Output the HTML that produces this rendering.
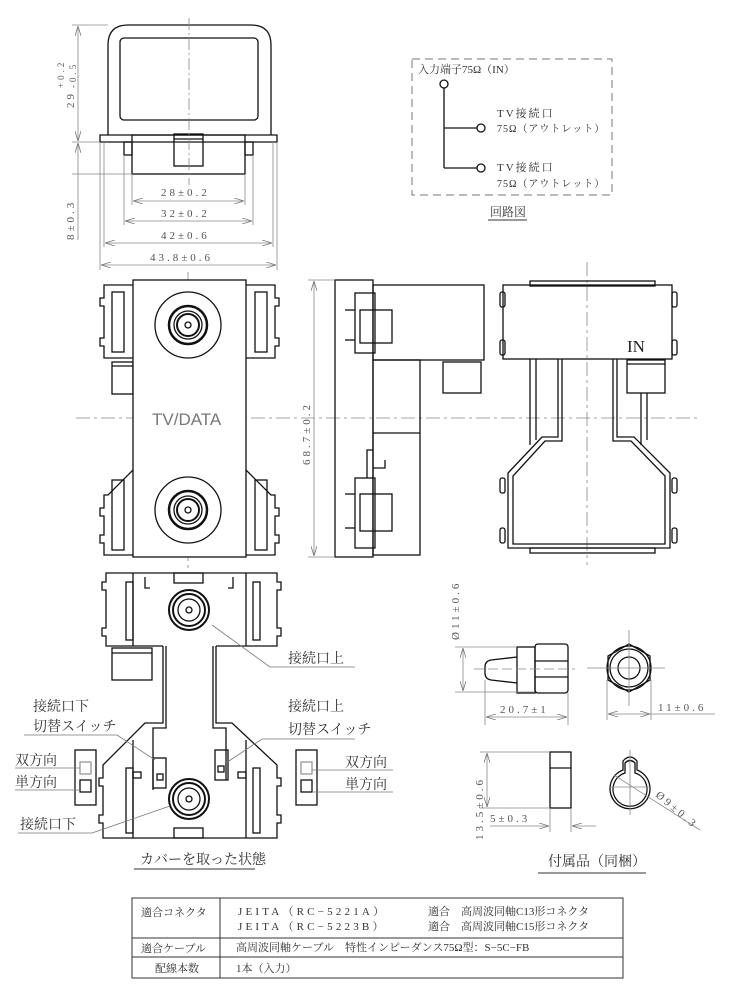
<!DOCTYPE html>
<html><head><meta charset="utf-8"><style>
html,body{margin:0;padding:0;background:#fff;}
svg{display:block;}
text{font-family:"Liberation Serif","Noto Serif CJK SC","Noto Sans CJK JP",serif;fill:#333;}
.d{font-size:11px;letter-spacing:3px;fill:#555;}
.l{font-size:14px;fill:#333;}
</style></head><body>
<svg width="755" height="1000" viewBox="0 0 755 1000" xmlns="http://www.w3.org/2000/svg">
<defs>
<marker id="a" markerWidth="10" markerHeight="6" refX="10" refY="3" orient="auto-start-reverse" markerUnits="userSpaceOnUse"><path d="M0,0 L10,3 L0,6" fill="none" stroke="#777" stroke-width="0.8"/></marker>
</defs>
<g fill="none" stroke="#111" stroke-width="1.3">
<!-- TOP VIEW -->
<path d="M108,135 L108,45 Q108,25 128,25 L251,25 Q271,25 271,45 L271,135"/>
<rect x="120" y="38" width="138" height="82" rx="4"/>
<path d="M100,142 L100,135 L277,135 L277,142 Z"/>
<rect x="132" y="135" width="113" height="39"/>
<rect x="124" y="142" width="8" height="13"/><rect x="245" y="142" width="8" height="13"/>
<rect x="174" y="134" width="29" height="32"/><line x1="174" y1="139" x2="203" y2="139"/>
</g>
<g stroke="#888" stroke-width="0.8" fill="none">
<line x1="189" y1="18" x2="189" y2="185" stroke-dasharray="12,3,2,3"/>
<line x1="72" y1="25" x2="108" y2="25"/><line x1="72" y1="142" x2="100" y2="142"/><line x1="72" y1="174" x2="132" y2="174"/>
<line x1="78" y1="26" x2="78" y2="141" marker-start="url(#a)" marker-end="url(#a)"/>
<line x1="78" y1="143" x2="78" y2="240" marker-start="url(#a)"/>
<line x1="132" y1="174" x2="132" y2="205"/><line x1="245" y1="174" x2="245" y2="205"/>
<line x1="124" y1="155" x2="124" y2="225"/><line x1="253" y1="155" x2="253" y2="225"/>
<line x1="104" y1="142" x2="104" y2="247"/><line x1="273" y1="142" x2="273" y2="247"/>
<line x1="100" y1="142" x2="100" y2="270"/><line x1="277" y1="142" x2="277" y2="270"/>
<line x1="133" y1="201" x2="244" y2="201" marker-start="url(#a)" marker-end="url(#a)"/>
<line x1="125" y1="221" x2="252" y2="221" marker-start="url(#a)" marker-end="url(#a)"/>
<line x1="105" y1="243" x2="272" y2="243" marker-start="url(#a)" marker-end="url(#a)"/>
<line x1="101" y1="265" x2="276" y2="265" marker-start="url(#a)" marker-end="url(#a)"/>
</g>
<text class="d" x="161" y="196">28±0.2</text>
<text class="d" x="161" y="217">32±0.2</text>
<text class="d" x="161" y="239">42±0.6</text>
<text class="d" x="150" y="261">43.8±0.6</text>
<text class="d" transform="translate(74,108) rotate(-90)">29</text>
<text class="d" style="font-size:9px" transform="translate(64,88) rotate(-90)">+0.2</text>
<text class="d" style="font-size:9px" transform="translate(76,88) rotate(-90)">-0.5</text>
<text class="d" transform="translate(74,240) rotate(-90)">8±0.3</text>

<!-- CIRCUIT -->
<rect x="412" y="59" width="200" height="136" fill="none" stroke="#777" stroke-dasharray="8,5"/>
<text x="418" y="73" style="font-size:11px">入力端子75Ω（IN）</text>
<g stroke="#111" stroke-width="1.3" fill="#fff">
<line x1="444" y1="88" x2="444" y2="168"/><line x1="444" y1="128" x2="477" y2="128"/><line x1="444" y1="168" x2="477" y2="168"/>
<circle cx="444" cy="84" r="4"/><circle cx="481" cy="128" r="4"/><circle cx="481" cy="168" r="4"/>
</g>
<text x="497" y="117" style="font-size:11px;letter-spacing:2px">TV接続口</text>
<text x="497" y="132" style="font-size:10px;letter-spacing:1px">75Ω（アウトレット）</text>
<text x="497" y="171" style="font-size:11px;letter-spacing:2px">TV接続口</text>
<text x="497" y="187" style="font-size:10px;letter-spacing:1px">75Ω（アウトレット）</text>
<text x="490" y="216" style="font-size:12px">回路図</text>
<line x1="488" y1="220" x2="527" y2="220" stroke="#333"/>

<!-- CENTER LINE -->
<line x1="76" y1="418" x2="700" y2="418" stroke="#888" stroke-width="0.8" stroke-dasharray="14,4,3,4"/>
<line x1="188" y1="272" x2="188" y2="570" stroke="#888" stroke-width="0.8" stroke-dasharray="14,4,3,4"/>
<line x1="587" y1="262" x2="587" y2="565" stroke="#888" stroke-width="0.8" stroke-dasharray="14,4,3,4"/>

<!-- FRONT VIEW -->
<g fill="none" stroke="#111" stroke-width="1.3">
<path d="M133,285 L104,285 L104,298 L100,298 L100,306 L104,306 L104,338 L100,338 L100,346 L104,346 L104,358 L133,358"/>
<rect x="112" y="292" width="12" height="60"/>
<path d="M246,285 L275,285 L275,298 L279,298 L279,306 L275,306 L275,338 L279,338 L279,346 L275,346 L275,358 L246,358"/>
<rect x="255" y="292" width="12" height="60"/>
<rect x="112" y="362" width="21" height="32"/><line x1="112" y1="366" x2="133" y2="366"/>
<path d="M133,470 L108,495 L104,495 L104,508 L100,508 L100,516 L104,516 L104,535 L100,535 L100,543 L104,543 L104,555 L133,555"/>
<rect x="112" y="480" width="12" height="70"/>
<path d="M246,470 L271,495 L275,495 L275,508 L279,508 L279,516 L275,516 L275,535 L279,535 L279,543 L275,543 L275,555 L246,555"/>
<rect x="255" y="480" width="12" height="70"/>
<rect x="133" y="280" width="113" height="277" fill="#fff"/>
<circle cx="188" cy="325" r="33"/><circle cx="188" cy="325" r="19" stroke-width="2.5"/><circle cx="188" cy="325" r="14"/><circle cx="188" cy="325" r="11" stroke-width="2"/><circle cx="188" cy="325" r="3"/>
<circle cx="188" cy="510" r="33"/><circle cx="188" cy="510" r="19" stroke-width="2.5"/><circle cx="188" cy="510" r="14"/><circle cx="188" cy="510" r="11" stroke-width="2"/><circle cx="188" cy="510" r="3"/>
</g>
<text x="152" y="425" style="font-family:'Liberation Sans',sans-serif;font-size:17px;fill:#777;letter-spacing:0px">TV/DATA</text>

<!-- SIDE VIEW -->
<g fill="none" stroke="#111" stroke-width="1.3">
<rect x="335" y="280" width="38" height="277"/>
<rect x="373" y="285" width="111" height="75"/>
<rect x="373" y="360" width="47" height="195"/><line x1="373" y1="433" x2="420" y2="433"/>
<rect x="443" y="362" width="38" height="31"/>
<rect x="355" y="293" width="20" height="60"/><rect x="360" y="310" width="32" height="33"/>
<line x1="345" y1="310" x2="355" y2="310"/><line x1="345" y1="340" x2="355" y2="340"/>
<rect x="355" y="478" width="20" height="70"/><rect x="360" y="494" width="32" height="37"/>
<line x1="345" y1="494" x2="355" y2="494"/><line x1="345" y1="528" x2="355" y2="528"/>
<path d="M373,450 L367,450 L367,478 M373,468 L385,468 L385,460"/>
</g>
<line x1="314" y1="281" x2="314" y2="556" stroke="#888" stroke-width="0.8" marker-start="url(#a)" marker-end="url(#a)"/>
<line x1="308" y1="280" x2="335" y2="280" stroke="#888" stroke-width="0.8"/><line x1="308" y1="557" x2="335" y2="557" stroke="#888" stroke-width="0.8"/>
<text class="d" transform="translate(310,465) rotate(-90)">68.7±0.2</text>

<!-- REAR VIEW -->
<g fill="none" stroke="#111" stroke-width="1.3">
<rect x="530" y="281" width="125" height="5"/>
<rect x="530" y="548" width="125" height="5"/>
<rect x="500" y="292" width="5" height="15" rx="2"/><rect x="500" y="340" width="5" height="15" rx="2"/>
<rect x="672" y="292" width="5" height="15" rx="2"/><rect x="672" y="340" width="5" height="15" rx="2"/>
<rect x="500" y="478" width="5" height="15" rx="2"/><rect x="500" y="528" width="5" height="15" rx="2"/>
<rect x="672" y="478" width="5" height="15" rx="2"/><rect x="672" y="528" width="5" height="15" rx="2"/>
<rect x="503" y="285" width="169" height="74"/>
<line x1="530" y1="359" x2="530" y2="445"/><line x1="536" y1="359" x2="536" y2="440"/>
<line x1="641" y1="393" x2="641" y2="445"/><line x1="647" y1="393" x2="647" y2="440"/>
<path d="M558,359 L558,437 L542,437 L508,473 L508,548 L670,548 L670,473 L634,437 L617,437 L617,359"/>
<path d="M562,359 L562,441 L545,441 L513,476 L513,544 L665,544 L665,476 L631,441 L613,441 L613,359"/>
<rect x="627" y="360" width="38" height="33"/><line x1="627" y1="364" x2="665" y2="364"/>
</g>
<text x="627" y="352" style="font-size:17px;fill:#222">IN</text>

<!-- COVER REMOVED -->
<g fill="none" stroke="#111" stroke-width="1.3">
<path d="M163,646 L106,646 L106,636 L102,636 L102,628 L106,628 L106,590 L102,590 L102,582 L106,582 L106,573 L277,573 L277,582 L281,582 L281,590 L277,590 L277,628 L281,628 L281,636 L277,636 L277,646 L216,646"/>
<line x1="133" y1="573" x2="133" y2="646"/><line x1="246" y1="573" x2="246" y2="646"/>
<rect x="126" y="582" width="7" height="58"/><rect x="253" y="582" width="7" height="58"/>
<rect x="174" y="573" width="29" height="10"/>
<path d="M145,577 L145,588 L150,588 M233,577 L233,588 L228,588"/>
<circle cx="189" cy="610" r="20" stroke-width="2"/><circle cx="189" cy="610" r="16" stroke-width="2"/><circle cx="189" cy="610" r="11"/><circle cx="189" cy="610" r="3"/>
<rect x="112" y="648" width="40" height="32"/><line x1="112" y1="653" x2="152" y2="653"/>
<path d="M163,646 L163,723 L145,723 L103,765 L103,778 L99,778 L99,786 L103,786 L103,815 L99,815 L99,823 L103,823 L103,838 L277,838 L277,823 L281,823 L281,815 L277,815 L277,786 L281,786 L281,778 L277,778 L277,765 L232,723 L216,723 L216,646"/>
<path d="M166,646 L166,728 L153,728 L153,790 M213,646 L213,728 L226,728 L226,780"/>
<line x1="133" y1="740" x2="133" y2="838"/><line x1="246" y1="740" x2="246" y2="838"/>
<rect x="126" y="768" width="7" height="65"/><rect x="253" y="768" width="7" height="65"/>
<rect x="133" y="772" width="8" height="6"/><rect x="238" y="772" width="8" height="6"/>
<rect x="153" y="758" width="13" height="30"/><rect x="157" y="774" width="6" height="6"/>
<rect x="215" y="750" width="13" height="30"/><rect x="218" y="766" width="6" height="6"/>
<rect x="174" y="828" width="29" height="10"/>
<circle cx="189" cy="799" r="20" stroke-width="2"/><circle cx="189" cy="799" r="16" stroke-width="2"/><circle cx="189" cy="799" r="11"/><circle cx="189" cy="799" r="3"/>
<rect x="75" y="750" width="21" height="55"/><rect x="80" y="762" width="11" height="12" stroke="#999"/><rect x="80" y="780" width="11" height="12"/>
<rect x="296" y="750" width="21" height="55"/><rect x="301" y="762" width="11" height="12" stroke="#999"/><rect x="301" y="780" width="11" height="12"/>
</g>
<g stroke="#777" stroke-width="0.8" fill="none">
<path d="M212,625 L270,667 L355,667"/>
<path d="M24,735 L117,735 L155,760"/>
<path d="M355,739 L262,739 L226,763"/>
<path d="M15,768 L80,768"/><path d="M15,790 L80,790"/>
<path d="M393,770 L312,770"/><path d="M393,792 L312,792"/>
<path d="M18,833 L92,833 L170,806"/>
</g>
<text class="l" x="288" y="663">接続口上</text>
<text class="l" x="33" y="711">接続口下</text><text class="l" x="33" y="731">切替スイッチ</text>
<text class="l" x="288" y="711">接続口上</text><text class="l" x="288" y="734">切替スイッチ</text>
<text class="l" x="15" y="765">双方向</text><text class="l" x="15" y="787">単方向</text>
<text class="l" x="345" y="767">双方向</text><text class="l" x="345" y="789">単方向</text>
<text class="l" x="20" y="829">接続口下</text>
<text class="l" x="140" y="864">カバーを取った状態</text>
<line x1="134" y1="869" x2="255" y2="869" stroke="#333"/>

<!-- ACCESSORIES -->
<g fill="none" stroke="#111" stroke-width="1.3">
<path d="M517,657 L491,660 Q485,661 485,667 L485,673 Q485,679 491,680 L517,683"/>
<rect x="517" y="647" width="18" height="46"/>
<rect x="535" y="644" width="33" height="49" rx="3"/><line x1="535" y1="661" x2="568" y2="661"/><line x1="535" y1="677" x2="568" y2="677"/>
<polygon points="629,644 650,656 650,680 629,692 608,680 608,656"/>
<circle cx="629" cy="668" r="22"/><circle cx="629" cy="668" r="19"/><circle cx="629" cy="668" r="11"/>
<rect x="550" y="752" width="21" height="56"/><line x1="550" y1="768" x2="571" y2="768"/>
<path d="M623,770 A20,20 0 1,0 637,770 L637,761 Q630,753 623,761 Z"/>
<path d="M625,773 A17,17 0 1,0 635,773 L635,763 Q630,758 625,763 Z"/>
</g>
<g stroke="#888" stroke-width="0.8" fill="none">
<line x1="474" y1="669" x2="575" y2="669" stroke-dasharray="10,4"/>
<line x1="587" y1="668" x2="665" y2="668"/><line x1="629" y1="630" x2="629" y2="706"/>
<line x1="630" y1="750" x2="630" y2="815"/><line x1="610" y1="787" x2="650" y2="787"/>
<line x1="455" y1="647" x2="517" y2="647"/><line x1="455" y1="692" x2="535" y2="692"/>
<line x1="463" y1="648" x2="463" y2="691" marker-start="url(#a)" marker-end="url(#a)"/>
<line x1="485" y1="680" x2="485" y2="725"/><line x1="568" y1="693" x2="568" y2="725"/>
<line x1="486" y1="717" x2="567" y2="717" marker-start="url(#a)" marker-end="url(#a)"/>
<line x1="607" y1="680" x2="607" y2="720"/><line x1="651" y1="680" x2="651" y2="720"/>
<line x1="608" y1="714" x2="650" y2="714" marker-start="url(#a)" marker-end="url(#a)"/><line x1="650" y1="714" x2="715" y2="714"/>
<line x1="480" y1="752" x2="550" y2="752"/><line x1="480" y1="808" x2="550" y2="808"/>
<line x1="487" y1="753" x2="487" y2="807" marker-start="url(#a)" marker-end="url(#a)"/>
<line x1="550" y1="808" x2="550" y2="832"/><line x1="571" y1="808" x2="571" y2="832"/>
<line x1="490" y1="826" x2="549" y2="826" marker-end="url(#a)"/><line x1="596" y1="826" x2="572" y2="826" marker-end="url(#a)"/>
<line x1="614" y1="775" x2="700" y2="830"/>
</g>
<text class="d" transform="translate(459,640) rotate(-90)">Ø11±0.6</text>
<text class="d" x="500" y="713">20.7±1</text>
<text class="d" x="658" y="711">11±0.6</text>
<text class="d" transform="translate(483,840) rotate(-90)">13.5±0.6</text>
<text class="d" x="490" y="822">5±0.3</text>
<text class="d" transform="translate(655,796) rotate(40)">Ø9±0.3</text>
<text class="l" x="548" y="866">付属品（同梱）</text>
<line x1="538" y1="873" x2="646" y2="873" stroke="#333"/>

<!-- TABLE -->
<g stroke="#333" stroke-width="1" fill="none">
<rect x="132" y="898" width="491" height="80"/>
<line x1="220" y1="898" x2="220" y2="978"/>
<line x1="132" y1="938" x2="623" y2="938"/><line x1="132" y1="957" x2="623" y2="957"/>
</g>
<g style="font-size:11px">
<text x="141" y="916">適合コネクタ</text>
<text x="238" y="915" style="letter-spacing:3.2px">JEITA（RC−5221A）</text><text x="428" y="915">適合　高周波同軸C13形コネクタ</text>
<text x="238" y="930" style="letter-spacing:3.2px">JEITA（RC−5223B）</text><text x="428" y="930">適合　高周波同軸C15形コネクタ</text>
<text x="141" y="952">適合ケーブル</text>
<text x="236" y="951">高周波同軸ケーブル　特性インピーダンス75Ω型：S−5C−FB</text>
<text x="155" y="972">配線本数</text>
<text x="236" y="972">1本（入力）</text>
</g>
</svg>
</body></html>
